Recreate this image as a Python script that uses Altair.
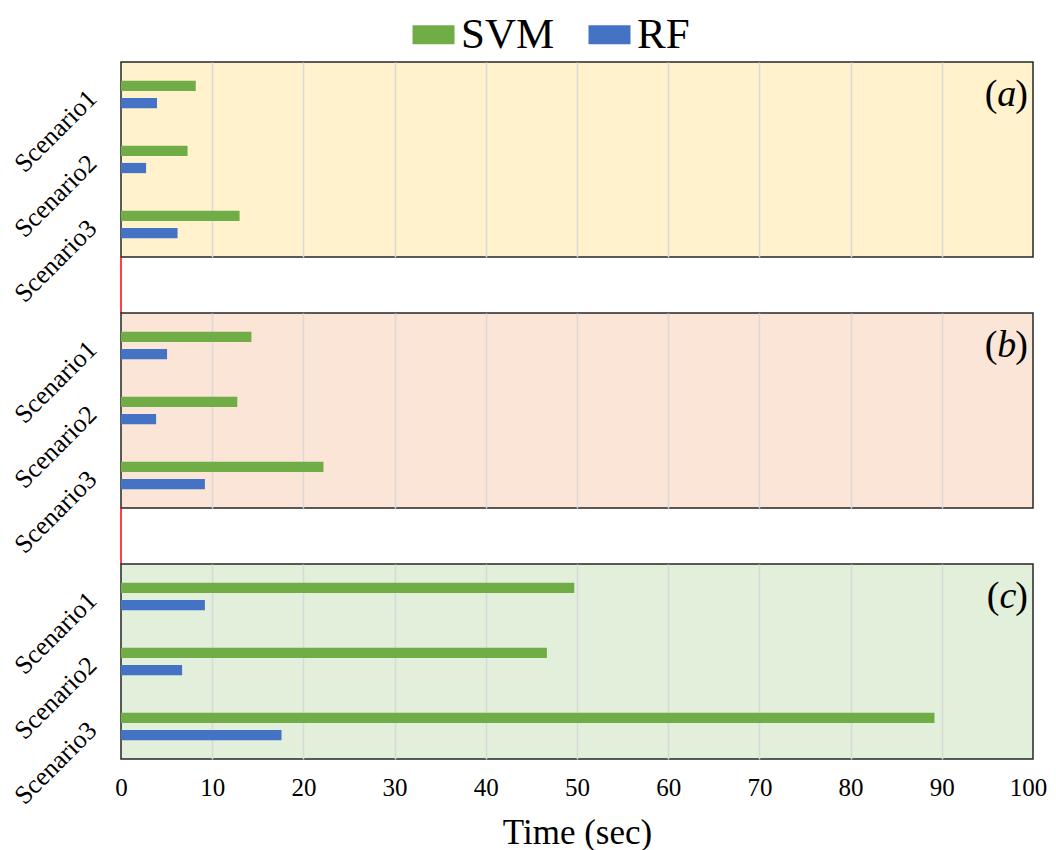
import altair as alt
import pandas as pd

# ---- data ----
scenarios = ["Scenario1", "Scenario2", "Scenario3"]
models = ["SVM", "RF"]
panels = ["a", "b", "c"]

svm_a = [8.2, 7.3, 13.0]
rf_a = [3.95, 2.75, 6.2]
svm_b = [14.3, 12.75, 22.2]
rf_b = [5.05, 3.85, 9.2]
svm_c = [49.7, 46.7, 89.2]
rf_c = [9.2, 6.7, 17.6]

x_ticks = [0, 10, 20, 30, 40, 50, 60, 70, 80, 90, 100]

backgrounds = ["#FFF2CC", "#FBE5D6", "#E2EFDA"]
model_colors = ["#70AD47", "#4472C4"]

FONT = "Liberation Serif"
W = 912
H = 195
GAP = 56
FS = 38  # panel tag font size

series = {"a": (svm_a, rf_a), "b": (svm_b, rf_b), "c": (svm_c, rf_c)}

grid_color = {
    "condition": {"test": "datum.value === 0 || datum.value === 100", "value": "transparent"},
    "value": "#D9D9D9",
}
last_label_offset = {
    "condition": {"test": "datum.value === 100", "value": -5},
    "value": 0,
}


def make_panel(i, p):
    svm, rf = series[p]
    df = pd.DataFrame(
        {
            "scenario": scenarios * 2,
            "model": ["SVM"] * 3 + ["RF"] * 3,
            "time": svm + rf,
        }
    )
    last = i == len(panels) - 1
    if last:
        xaxis = alt.Axis(
            values=x_ticks,
            title="Time (sec)",
            titleFont=FONT,
            titleFontSize=35,
            titleFontWeight="normal",
            titleColor="black",
            titlePadding=15,
            labelFont=FONT,
            labelFontSize=25,
            labelColor="black",
            labelPadding=16,
            labelFlush=False,
            labelOffset=last_label_offset,
            ticks=False,
            domain=False,
            grid=True,
            gridColor=grid_color,
            gridWidth=1.5,
        )
    else:
        xaxis = alt.Axis(
            values=x_ticks,
            title=None,
            labels=False,
            ticks=False,
            domain=False,
            grid=True,
            gridColor=grid_color,
            gridWidth=1.5,
        )

    bars = (
        alt.Chart(df)
        .mark_bar()
        .encode(
            x=alt.X("time:Q", scale=alt.Scale(domain=[0, 100], nice=False), axis=xaxis),
            y=alt.Y(
                "scenario:N",
                sort=scenarios,
                scale=alt.Scale(paddingInner=0.58, paddingOuter=0.29),
                axis=alt.Axis(
                    title=None,
                    ticks=False,
                    domain=False,
                    labelAngle=315,
                    labelAlign="right",
                    labelBaseline="middle",
                    labelFont=FONT,
                    labelFontSize=26,
                    labelColor="black",
                    labelPadding=29,
                ),
            ),
            yOffset=alt.YOffset(
                "model:N", sort=models, scale=alt.Scale(paddingInner=0.4, paddingOuter=0)
            ),
            color=alt.Color(
                "model:N",
                sort=models,
                scale=alt.Scale(domain=models, range=model_colors),
                legend=alt.Legend(
                    title=None,
                    orient="none",
                    legendX=291,
                    legendY=-49,
                    direction="horizontal",
                    symbolType="M-1,-0.45L1,-0.45L1,0.45L-1,0.45Z",
                    symbolSize=1764,
                    symbolStrokeWidth=0,
                    symbolOpacity=1,
                    labelFont=FONT,
                    labelFontSize=43,
                    labelColor="black",
                    labelOffset=6,
                    columnPadding=33,
                    labelLimit=200,
                ),
            ),
        )
    )

    tag_df = pd.DataFrame({"tag": [p]})
    tag_base = alt.Chart(tag_df)
    letter_w = {"a": 0.5, "b": 0.5, "c": 0.444}[p] * FS
    paren_w = 0.333 * FS
    right = W - 5
    close_p = tag_base.mark_text(
        font=FONT, fontSize=FS, align="right", baseline="middle", color="black"
    ).encode(x=alt.value(right), y=alt.value(33), text=alt.value(")"))
    letter = tag_base.mark_text(
        font=FONT, fontSize=FS, fontStyle="italic", align="right", baseline="middle", color="black"
    ).encode(x=alt.value(right - paren_w + 1), y=alt.value(33), text="tag:N")
    open_p = tag_base.mark_text(
        font=FONT, fontSize=FS, align="right", baseline="middle", color="black"
    ).encode(x=alt.value(right - paren_w - letter_w + 1), y=alt.value(33), text=alt.value("("))

    layers = [bars, open_p, letter, close_p]
    if not last:
        red = (
            alt.Chart(pd.DataFrame({"x": [0]}))
            .mark_rule(color="#FF0000", strokeWidth=1.5)
            .encode(x="x:Q", y=alt.value(H), y2=alt.value(H + GAP))
        )
        layers.append(red)

    return alt.layer(*layers).properties(
        width=W,
        height=H,
        view=alt.ViewBackground(fill=backgrounds[i], stroke="#262626", strokeWidth=1.5),
    )


chart = (
    alt.vconcat(*[make_panel(i, p) for i, p in enumerate(panels)], spacing=GAP, bounds="flush")
    .properties(padding={"left": 0, "top": 5, "right": 0, "bottom": 0})
    .configure(background="white")
)

chart.save("out.html", embed_options={"renderer": "svg", "actions": False})
